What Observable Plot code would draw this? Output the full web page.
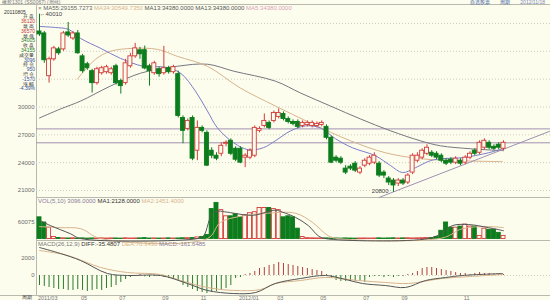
<!DOCTYPE html>
<html>
<head>
<meta charset="utf-8">
<script src="https://cdn.jsdelivr.net/npm/d3@7"></script>
<script src="https://cdn.jsdelivr.net/npm/@observablehq/plot@0.6"></script>
<style>
  html, body { margin: 0; padding: 0; background: #fdfdee; }
  #chart { position: relative; width: 550px; height: 300px; background: #fdfdee; overflow: hidden;
           font-family: "Liberation Sans", Arial, sans-serif; }
  #chart > svg { position: absolute; left: 0; top: 0; }
  .lbl { position: absolute; white-space: nowrap; font-size: 6px; line-height: 6px; }
  .sm { font-size: 5px; line-height: 4.5px; }
  .hl { position: absolute; height: 1px; background: #b9b9ad; }
  .vl { position: absolute; width: 1px; background: #b9b9ad; }
</style>
</head>
<body>
<div id="chart"></div>
<script>
// ---- weekly bars, rubber 1301 ----
const open = [38140,37930,33320,35140,36210,36210,38040,37390,37930,35460,
  34610,33860,32570,33640,33750,33640,34390,32790,32570,34390,
  35460,36110,36120,34390,33640,34070,33640,34180,33750,33540,
  28820,27640,28820,25290,27750,27210,25290,24750,24960,26040,
  26360,25500,25500,24540,24540,24750,27430,27960,28290,28500,
  28930,29250,28710,28390,28390,27960,28070,27960,27960,28070,
  27860,26680,24540,24430,23360,23570,23890,22930,23680,23890,
  24000,23890,22930,22290,22070,21750,22070,21860,22930,24210,
  24540,24960,25070,24960,24750,24210,24320,24000,24210,24000,
  24540,25290,25070,25610,26140,25710,25930,25500];
const high = [40010,38140,35360,36540,36430,38140,39110,38140,38250,35680,
  34820,34070,34290,34390,34500,34290,34610,33000,35140,35790,
  36860,36430,36570,34610,34930,34290,36540,34390,34500,33860,
  29040,28710,29040,28500,27960,27430,25610,25070,26140,26360,
  26570,25710,25710,24960,25500,27960,27860,29250,28500,29570,
  29790,29470,28930,28610,28610,28500,28500,28500,28390,28500,
  28070,26890,24750,24640,23680,23790,24110,23570,24430,24750,
  25070,24110,23140,22500,22290,22290,22290,22820,24960,25070,
  25500,25930,25290,25180,24960,24430,24540,24640,24430,24750,
  25180,25500,26360,26570,26360,25930,26140,26360];
const low = [37610,34710,32570,34930,35570,36000,37500,37180,35680,33640,
  33960,31500,32360,33430,33540,33430,32360,31390,32360,34180,
  35250,35140,34005,32250,33430,33210,33430,33540,33540,28820,
  26040,27430,24210,24210,27210,23570,24430,24210,24640,25710,
  24750,24110,23890,23460,24320,24540,27210,27750,27540,28290,
  28710,28500,28180,27960,27640,27750,27860,27750,27750,27860,
  26460,23890,24000,23790,22710,23140,22930,22710,23460,23680,
  23790,22390,22290,21540,20800,21430,21540,21640,22710,24000,
  24320,24750,24540,24320,24000,23680,23790,23790,23680,23790,
  24320,24750,24860,25390,25390,25290,25390,25290];
const close = [37820,35040,35140,36320,35790,37930,37710,37930,35790,33860,
  34180,32570,34070,34180,34290,34070,32570,32250,34710,35460,
  36320,35680,34155,33860,34710,33540,34180,33750,34290,29040,
  27430,28500,24430,27750,27430,23680,24750,24430,25820,26140,
  24960,24320,24000,24750,25290,27750,27640,28500,27750,29360,
  29360,28710,28390,28180,27860,28290,28290,28290,28180,28290,
  26680,24000,24210,24000,22930,23360,23140,23360,24210,24540,
  24750,22610,22610,21860,21540,22070,21750,22610,24750,24750,
  25290,25610,24750,24540,24210,23890,24000,24430,23890,24540,
  24960,24960,26140,26360,25610,25500,25610,26140];
const volume = [78900,60100,41300,7500,3800,2400,1900,2600,1700,2200,
  1500,2000,1800,2300,1600,2100,1900,1400,2500,1700,
  2000,2200,3096,1800,2100,1600,1900,2300,1700,2000,
  2600,2900,3400,5600,7500,15000,108900,131400,105100,82600,
  82600,90100,78900,86400,93900,97600,112700,112700,112700,108900,
  105100,78900,82600,78900,37600,7500,3000,2400,2000,1800,
  2200,1600,1900,1500,2100,1700,1400,1800,2000,1600,
  1900,2300,1700,2100,2500,1800,2200,2600,2000,2400,
  2800,3200,3800,7500,30000,60100,41300,41300,45100,52600,
  45100,45100,11300,37600,33800,33800,22500,11300];
const macdHist = [-1180,-1290,-1410,-1530,-1650,-1650,-1760,-1760,-1650,-1760,
  -1880,-1760,-1650,-1760,-1530,-1410,-1180,-820,-470,-240,
  -120,120,-162,-240,-120,-120,-240,-350,-470,-590,
  -1180,-1410,-1650,-1880,-2000,-2120,-2000,-1880,-1760,-1530,
  -1180,-350,-240,120,240,470,820,940,1180,1290,
  1530,1410,1290,1180,1060,940,820,700,590,470,
  120,-350,-590,-700,-700,-700,-700,-590,-820,-240,
  -120,-120,-240,-120,-240,-120,-120,120,240,470,
  820,940,940,820,700,590,470,350,240,240,
  120,240,350,240,240,120,120,120];

// moving-average curves, sampled at week positions
const ma13Week = [0,3.3,6.1,8.6,12.8,16.9,21.7,26.3,29.5,32.6,35.1,37.2,40.6,43.7,46.8,49.3,52.5,55.6,58.7,61.9,65.4,70.2,73.4,75.9,78.6,81.7,84.2,88.4,93.9,96.8];
const ma13Val  = [38680,38570,38360,37390,36320,35250,34390,34290,33640,31710,29570,27750,26140,25390,25610,26360,27430,27960,27750,26570,25610,24750,23680,22930,23460,24210,24430,24540,25070,25500];
const ma34Week = [7.9,11.7,14.8,19.6,24.7,28.8,35.1,42,49.3,56.6,65,72.3,79.6,88,96.8];
const ma34Val  = [33000,35140,36000,36320,36210,35460,34390,32040,30110,28290,26360,25070,24430,24210,24110];
const ma55Week = [0,4.4,8.6,14.8,21.1,28.8,35.1,40.6,49.3,54.6,60.8,67.1,73.4,79.6,83.8,90.1,97];
const ma55Val  = [28820,29790,30640,32250,33640,34390,34610,33860,32790,31500,30110,28710,27430,26360,25820,25500,25290];
const volMa1Week = [0,2.3,6.5,8.6,33,34.3,36.4,39.3,40.6,44.7,49.3,50.8,53.5,56.2,58.3,59.8,81.3,84.2,86.3,89.7,93.9,97];
const volMa1Val  = [67600,48800,18800,1500,1500,11300,97600,97600,93900,86400,105100,97600,78900,48800,11300,1500,1500,22500,48800,52600,41300,30000];
const volMa2Week = [0,4.4,8.6,12.8,35.1,37.8,42,47.7,53.5,57.1,60.4,62.5,84.2,88.4,93.9,97];
const volMa2Val  = [45100,41300,37600,1500,1500,60100,82600,93900,93900,60100,11300,1500,3800,37600,45100,41300];
const difWeek = [0,4.4,8.6,14.2,18.4,25.3,30.9,35.1,40.6,45.2,49.3,54.6,59.8,64,67.5,72.3,76.5,80.7,84.9,88.4,96.8];
const difVal  = [3290,2590,1760,235,0,0,-940,-1760,-2120,-2000,-940,-350,0,-470,-940,-1180,-1410,-590,-235,0,235];
const deaWeek = [0,5.9,12.8,18.4,25.3,29.5,35.1,40.6,46.2,49.3,54.6,59.8,66.7,72.3,77.1,84.2,90.1,96.8];
const deaVal  = [2940,2350,940,350,120,-590,-1410,-1760,-1650,-940,-590,-235,-590,-820,-940,-350,-120,120];

// support / resistance levels and the rising trend line
const levels = [27640, 26140];
const trendWeek = [71, 107];
const trendVal  = [20250, 27450];

// axis ticks
const priceTicks = [21000, 24000, 27000, 30000];
const priceGrid  = [21000, 24000, 27000, 30000, 33000, 36000, 39000];
const volTicks   = [60075];
const macdTicks  = [0, 2000];
const dateWeeks  = [0, 9, 17, 26, 34, 42, 50, 59, 68, 76, 89];
const dateLabels = ["2011/03", "05", "07", "09", "11", "2012/01", "03", "05", "07", "09", "11"];

// ---- drawing ----
const RED = "#d23a3a", GREEN = "#0c7c1c", BG = "#fdfdee";
const chart = document.getElementById("chart");
const weeks = open.map((_, i) => i);
const bars = weeks.map(i => ({i, o: open[i], h: high[i], l: low[i], c: close[i], v: volume[i], up: close[i] >= open[i]}));
const pts = (ws, vs) => ws.map((w, k) => ({i: w, v: vs[k]}));
const half = 0.42;

const common = {
  width: 550, height: 300, marginLeft: 36, marginRight: 0, marginTop: 0, marginBottom: 0,
  x: {type: "linear", domain: [0, 97], range: [39, 503], axis: null},
  color: {type: "identity"},
  style: {background: "none", overflow: "visible", fontFamily: "Liberation Sans, Arial, sans-serif"}
};
const axisText = (ticks, fmt) => Plot.text(ticks, {y: d => d, text: fmt, frameAnchor: "left", textAnchor: "end",
  lineAnchor: "middle", dx: -2, fontSize: 6, fill: "#6b6b6b"});

const pricePlot = Plot.plot({
  ...common,
  y: {domain: [21000, 39000], range: [190, 23], axis: null},
  marks: [
    Plot.ruleY(priceGrid, {stroke: "#cfcfc0", strokeDasharray: "1,2"}),
    axisText(priceTicks, d => String(d)),
    Plot.ruleY(levels, {stroke: "#a090b0", strokeWidth: 1}),
    Plot.line(pts(ma55Week, ma55Val), {x: "i", y: "v", curve: "catmull-rom", stroke: "#77777f", strokeWidth: 1}),
    Plot.line(pts(ma34Week, ma34Val), {x: "i", y: "v", curve: "catmull-rom", stroke: "#d8b48c", strokeWidth: 1}),
    Plot.line(pts(ma13Week, ma13Val), {x: "i", y: "v", curve: "catmull-rom", stroke: "#7c7cc8", strokeWidth: 1}),
    Plot.line(pts(trendWeek, trendVal), {x: "i", y: "v", stroke: "#a090b0", strokeWidth: 1}),
    Plot.ruleX(bars, {x: "i", y1: "l", y2: "h", stroke: d => d.up ? RED : GREEN, strokeWidth: 1}),
    Plot.rect(bars, {x1: d => d.i - half, x2: d => d.i + half,
      y1: d => Math.min(d.o, d.c), y2: d => Math.max(d.o, d.c),
      fill: d => d.up ? BG : GREEN, stroke: d => d.up ? RED : GREEN, strokeWidth: 0.9}),
    Plot.text([bars[0]], {x: "i", y: "h", text: d => "\u2190" + d.h, textAnchor: "start", dx: 0, fontSize: 6, fill: "#444"}),
    Plot.text([bars[74]], {x: "i", y: "l", text: d => String(d.l), textAnchor: "end", dx: -5, dy: -1, fontSize: 6, fill: "#444"})
  ]
});

const volPlot = Plot.plot({
  ...common,
  y: {domain: [0, 60075], range: [238.5, 222], axis: null},
  marks: [
    axisText(volTicks, d => String(d)),
    Plot.rect(bars, {x1: d => d.i - half, x2: d => d.i + half, y1: () => 0, y2: "v",
      fill: d => d.up ? BG : GREEN, stroke: d => d.up ? RED : GREEN, strokeWidth: 0.9}),
    Plot.line(pts(volMa2Week, volMa2Val), {x: "i", y: "v", curve: "catmull-rom", stroke: "#d8b48c", strokeWidth: 1}),
    Plot.line(pts(volMa1Week, volMa1Val), {x: "i", y: "v", curve: "catmull-rom", stroke: "#555", strokeWidth: 1})
  ]
});

const macdPlot = Plot.plot({
  ...common,
  y: {domain: [0, 2000], range: [275, 258], axis: null},
  marks: [
    Plot.ruleY([0], {stroke: "#cfcfc0", strokeDasharray: "1,2"}),
    axisText(macdTicks, d => String(d)),
    Plot.ruleX(weeks, {x: d => d, y1: () => 0, y2: i => macdHist[i],
      stroke: i => macdHist[i] >= 0 ? "#b04040" : "#2a7a2a", strokeWidth: 1}),
    Plot.line(pts(deaWeek, deaVal), {x: "i", y: "v", curve: "catmull-rom", stroke: "#d8b48c", strokeWidth: 1}),
    Plot.line(pts(difWeek, difVal), {x: "i", y: "v", curve: "catmull-rom", stroke: "#555", strokeWidth: 1}),
    Plot.text(dateWeeks, {x: d => d, text: (d, k) => dateLabels[k], frameAnchor: "bottom", lineAnchor: "middle",
      textAnchor: "start", dx: -1.5, dy: -2.5, fontSize: 5.5, fill: "#777"})
  ]
});

// panel frames
function line(cls, l, t, w, h) {
  const e = document.createElement("div"); e.className = cls;
  e.style.left = l + "px"; e.style.top = t + "px";
  if (w != null) e.style.width = w + "px";
  if (h != null) e.style.height = h + "px";
  chart.appendChild(e);
}
line("hl", 0, 4, 550);
line("vl", 36, 4, null, 292);
line("hl", 36, 197, 514);
line("hl", 36, 240, 514);
line("hl", 0, 295, 550);

chart.appendChild(pricePlot);
chart.appendChild(volPlot);
chart.appendChild(macdPlot);

// text overlays
function label(x, y, parts, anchor, cls) {
  const e = document.createElement("div"); e.className = "lbl" + (cls ? " " + cls : "");
  e.style.top = (y - (cls ? 2.25 : 3)) + "px";
  if (anchor === "end") { e.style.right = (550 - x) + "px"; } else { e.style.left = x + "px"; }
  for (const [t, c] of parts) {
    const s = document.createElement("span"); s.textContent = t; s.style.color = c; e.appendChild(s);
  }
  chart.appendChild(e);
}
label(2, 1.8, [["橡胶1301 (SS0067) (周线)", "#777"]], null, "sm");
label(545, 2, [["自选股票", "#3858a0"], ["\u2003\u2003周期\u2003\u2003", "#3858a0"], ["2012/11/18", "#7a88b8"]], "end", "sm");
label(38, 7.5, [["\u00d7 ", "#777"], ["MA55:29155.7273 ", "#666"], ["MA34:30549.7350 ", "#d8b48c"],
  ["MA13:34380.0000 ", "#555"], ["MA13:34380.0000 ", "#555"], ["MA5:34380.0000", "#d8a0b8"]]);
label(38, 201, [["VOL(5,10) 3096.0000 ", "#8a7a9a"], ["MA1:2128.0000 ", "#333"], ["MA2:1451.4000", "#d8b48c"]]);
label(38, 244, [["MACD(26,12,9) ", "#777"], ["DIFF:-35.4807 ", "#333"], ["DEA:70.3436 ", "#d8b48c"], ["MACD:-161.6485", "#8a7a9a"]]);

// cursor info panel
const infoNames  = ["开 盘", "最 高", "最 低", "收 盘", "成交量", "持 仓", "增 仓", "涨 幅"];
const infoValues = ["36120", "36570", "34005", "34155", "3096", "950", "-1570", "-4.39%"];
const infoColors = ["#c83030", "#c83030", "#1a7a2a", "#1a7a2a", "#3050a0", "#3050a0", "#3050a0", "#3050a0"];
label(4, 12, [["20110805", "#333"]], null, "sm");
infoNames.forEach((n, k) => {
  label(34, 16.6 + k * 9.6, [[n, "#333"]], "end", "sm");
  label(35, 21.4 + k * 9.6, [[infoValues[k], infoColors[k]]], "end", "sm");
});
label(22, 297.5, [["周期", "#333"]], null, "sm");
</script>
</body>
</html>
